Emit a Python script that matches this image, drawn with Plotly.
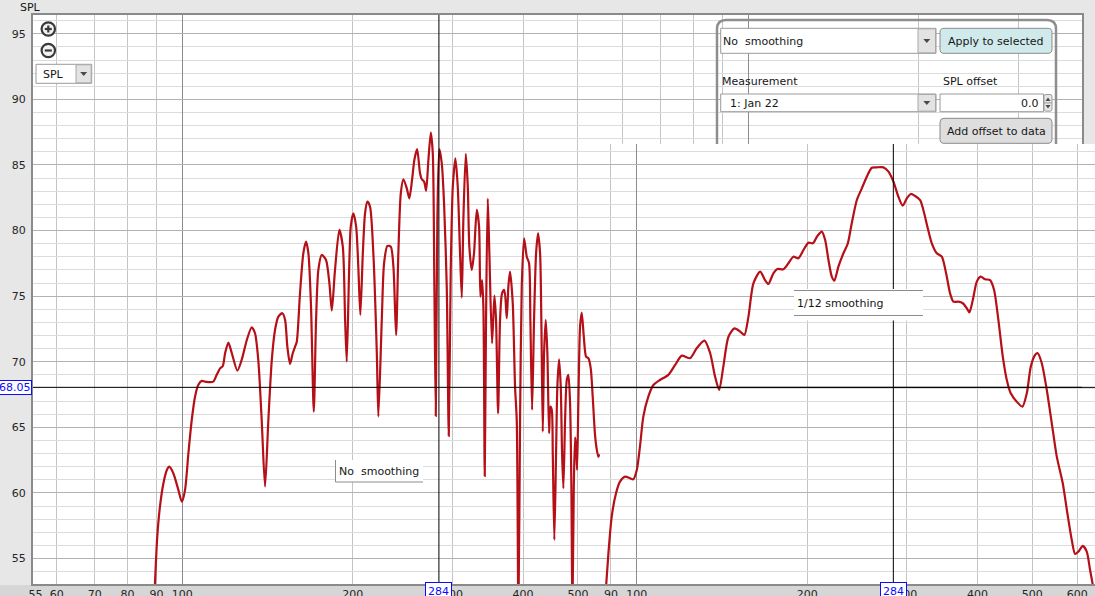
import math
import plotly.graph_objects as go

# ---------------- data ----------------
# Left panel: measurement with no smoothing (Hz, dB SPL)
RAW_FREQ = [88.8, 89.4, 90.3, 91.3, 92.6, 93.9, 94.8, 96.4, 98.4, 99.8,
            101.1, 102.5, 103.9, 105.3, 106.7, 108.2, 110.4, 113.4, 115.0, 116.6,
            117.9, 119.0, 120.6, 122.3, 125.1, 127.3, 130.0, 132.6, 134.4, 136.2,
            138.1, 140.0, 141.9, 143.9, 145.8, 147.8, 150.2, 151.9, 153.3, 155.0,
            156.7, 158.2, 159.3, 161.4, 163.6, 165.4, 167.0, 168.8, 170.7, 172.3,
            173.9, 176.3, 179.4, 181.9, 183.7, 186.1, 189.4, 192.1, 193.9, 195.2,
            197.1, 198.4, 200.5, 202.8, 204.7, 206.3, 208.4, 210.3, 212.3, 214.6,
            217.5, 220.6, 222.0, 225.1, 227.2, 230.3, 233.5, 236.0, 238.6, 240.8,
            243.2, 245.8, 249.2, 251.8, 254.6, 257.0, 259.9, 263.0, 264.9, 267.4,
            269.6, 272.1, 274.8, 277.0, 278.8, 280.4, 282.2, 284.5, 287.3, 290.0,
            293.2, 295.6, 298.0, 300.5, 303.7, 306.6, 309.5, 311.7, 313.7, 316.8,
            319.4, 321.4, 324.6, 327.6, 331.3, 334.4, 336.2, 338.5, 340.3, 342.2,
            344.0, 346.4, 348.7, 352.5, 355.9, 358.3, 361.3, 364.2, 367.2, 370.6,
            374.3, 376.7, 379.3, 383.5, 387.1, 389.8, 392.4, 395.1, 397.8, 401.6,
            406.0, 409.8, 412.0, 414.9, 418.2, 421.7, 425.1, 428.6, 430.8, 433.3,
            435.6, 438.6, 441.5, 444.6, 446.9, 449.5, 451.3, 454.2, 457.4, 459.8,
            463.0, 466.2, 468.7, 471.2, 474.5, 477.8, 480.9, 484.2, 486.8, 488.8,
            491.6, 494.2, 496.2, 498.2, 500.8, 504.3, 507.8, 512.0, 516.8, 521.6,
            526.7, 531.0, 536.0, 539.8, 543.3, 545.5]
RAW_SPL = [50.0, 52.8, 56.67, 58.96, 60.74, 61.75, 62.0, 61.5, 60.23, 59.34,
           60.23, 63.03, 65.56, 67.34, 68.23, 68.54, 68.46, 68.48, 69.0, 69.5,
           69.68, 70.65, 71.46, 70.65, 69.32, 70.14, 71.66, 72.63, 72.17, 70.14,
           65.56, 60.48, 65.56, 70.14, 72.42, 73.44, 73.7, 73.19, 71.15, 69.83,
           70.65, 71.15, 71.53, 75.22, 78.27, 79.16, 78.27, 74.2, 66.2, 73.19,
           77.0, 78.14, 77.76, 75.98, 73.9, 77.0, 80.05, 78.77, 73.19, 70.01,
           77.0, 80.3, 81.32, 80.3, 77.0, 73.57, 78.27, 81.32, 82.2, 81.82,
           78.27, 70.65, 65.82, 73.19, 77.5, 78.83, 78.77, 77.25, 72.04, 78.27,
           82.84, 83.91, 83.22, 82.46, 83.86, 85.38, 86.2, 84.37, 83.91, 83.73,
           83.04, 85.38, 87.46, 85.89, 75.72, 65.87, 80.81, 86.2, 85.13, 82.08,
           75.72, 64.35, 77.0, 83.35, 85.51, 83.35, 78.27, 74.89, 80.81, 85.84,
           83.35, 78.77, 77.0, 78.27, 81.57, 80.3, 74.96, 76.23, 74.2, 61.3,
           73.19, 82.43, 78.27, 71.41, 75.04, 73.19, 66.07, 73.19, 75.22, 75.47,
           73.32, 75.72, 76.87, 74.46, 68.1, 65.56, 50.5, 65.56, 75.72, 79.41,
           78.01, 77.51, 73.19, 66.33, 73.19, 78.27, 79.79, 78.27, 73.19, 64.67,
           70.65, 73.19, 70.65, 64.55, 66.58, 66.33, 63.03, 56.42, 63.03, 68.1,
           70.19, 68.1, 63.03, 60.36, 65.56, 68.61, 69.0, 66.84, 60.48, 50.5,
           60.48, 64.24, 63.53, 61.75, 66.84, 72.68, 73.74, 71.91, 70.39, 70.27,
           69.5, 67.3, 64.4, 63.3, 62.75, 62.95]

# Right panel: same measurement with 1/12 octave smoothing (Hz, dB SPL)
SMOOTH_FREQ = [87.5, 88.3, 89.1, 90.3, 91.9, 93.4, 95.4, 97.3, 98.6, 100.0,
               101.3, 102.7, 104.8, 107.0, 109.9, 113.7, 116.9, 120.1, 124.2, 127.6,
               131.7, 134.8, 137.5, 139.8, 142.2, 145.2, 148.8, 152.3, 154.9, 157.5,
               160.7, 165.2, 168.5, 170.8, 174.3, 177.2, 181.6, 185.3, 189.1, 193.0,
               197.0, 201.0, 204.7, 208.5, 212.3, 215.2, 218.1, 221.1, 223.4, 227.1,
               231.8, 236.0, 239.8, 244.8, 249.8, 254.9, 260.2, 265.5, 272.8, 278.4,
               284.1, 289.9, 295.1, 300.0, 304.9, 310.3, 316.7, 320.9, 326.2, 332.1,
               338.9, 345.9, 352.0, 357.7, 362.6, 370.0, 376.7, 382.9, 387.0, 392.4,
               398.8, 405.3, 412.5, 421.0, 427.9, 435.4, 443.3, 450.6, 457.9, 469.2,
               480.1, 488.8, 496.8, 505.5, 511.1, 519.5, 530.2, 541.1, 552.2, 565.8,
               576.5, 586.9, 594.8, 602.9, 613.8, 623.8, 632.3, 639.3, 648.0]
SMOOTH_SPL = [51.0, 53.0, 55.4, 58.2, 59.98, 60.86, 61.24, 61.12, 61.04, 61.75,
              63.53, 65.82, 67.34, 68.23, 68.61, 69.0, 69.76, 70.47, 70.27, 71.03,
              71.61, 70.65, 68.87, 67.85, 69.63, 71.91, 72.55, 72.3, 72.04, 73.44,
              75.98, 76.87, 76.23, 75.93, 76.74, 77.07, 77.05, 77.51, 78.01, 77.89,
              78.52, 79.08, 79.03, 79.59, 79.92, 79.28, 77.76, 76.49, 76.18, 77.25,
              78.27, 79.03, 80.56, 82.33, 83.22, 84.11, 84.79, 84.82, 84.82, 84.49,
              83.73, 82.58, 81.9, 82.46, 82.79, 82.64, 82.33, 81.57, 80.3, 79.03,
              78.27, 78.01, 76.75, 75.22, 74.58, 74.58, 74.46, 74.08, 73.77, 74.71,
              76.11, 76.49, 76.29, 76.23, 75.47, 73.19, 70.39, 68.61, 67.6, 66.96,
              66.58, 67.6, 69.63, 70.52, 70.65, 69.89, 67.85, 65.31, 62.77, 60.74,
              58.45, 56.42, 55.35, 55.53, 55.96, 55.53, 54.13, 53.0, 51.5]

LEFT_TICKS = [55, 60, 70, 80, 90, 100, 200, 300, 400, 500]
RIGHT_TICKS = [90, 100, 200, 300, 400, 500, 600]
LEFT_GRID_DECADE = [100, 1000]
LEFT_GRID = [60, 70, 80, 90, 200, 300, 400, 500, 600, 700, 800, 900, 2000, 3000]
RIGHT_GRID_DECADE = [100]
RIGHT_GRID = [90, 200, 300, 400, 500, 600]
Y_TICKS = [55, 60, 65, 70, 75, 80, 85, 90, 95]
Y_MINOR = [54, 56, 57, 58, 59, 61, 62, 63, 64, 66, 67, 68, 69, 71, 72, 73, 74,
           76, 77, 78, 79, 81, 82, 83, 84, 86, 87, 88, 89, 91, 92, 93, 94, 96]
CURSOR_HZ = 284
CURSOR_DB = 68.05

LEFT_RANGE_HZ = (54.47, 3886.0)
RIGHT_RANGE_HZ = (86.1, 645.1)
Y_RANGE = (53.06, 96.43)
Y2_TOP = 86.60

# ---------------- geometry helpers (UI chrome only) ----------------
W, H = 1095, 596
ML, MR, MT, MB = 33, 0, 15, 12
PW = W - ML - MR
PH = H - MT - MB
FONT = "DejaVu Sans"


def px(x):
    return (x - ML) / PW


def py(y):
    return (MT + PH - y) / PH


def rect(x0, y0, x1, y1, fill, line=None, lw=1.0, layer="above"):
    return dict(type="rect", xref="paper", yref="paper", layer=layer,
                x0=px(x0), x1=px(x1), y0=py(y1), y1=py(y0), fillcolor=fill,
                line=dict(color=line if line else "rgba(0,0,0,0)", width=lw if line else 0))


def seg(x0, y0, x1, y1, color, w=1.0):
    return dict(type="line", xref="paper", yref="paper", layer="above",
                x0=px(x0), x1=px(x1), y0=py(y0), y1=py(y1), line=dict(color=color, width=w))


def pth(points, fill=None, line=None, lw=1.0, closed=True):
    s = ""
    for cmd, coords in points:
        s += cmd + " " + " ".join("%.6f,%.6f" % (px(a), py(b)) for a, b in coords) + " "
    if closed:
        s += "Z"
    return dict(type="path", xref="paper", yref="paper", layer="above", path=s.strip(),
                fillcolor=fill if fill else "rgba(0,0,0,0)",
                line=dict(color=line if line else "rgba(0,0,0,0)", width=lw if line else 0))


def rrect(x0, y0, x1, y1, r, fill, line, lw=1.0):
    pts = [("M", [(x0 + r, y0)]), ("L", [(x1 - r, y0)]), ("Q", [(x1, y0), (x1, y0 + r)]),
           ("L", [(x1, y1 - r)]), ("Q", [(x1, y1), (x1 - r, y1)]), ("L", [(x0 + r, y1)]),
           ("Q", [(x0, y1), (x0, y1 - r)]), ("L", [(x0, y0 + r)]), ("Q", [(x0, y0), (x0 + r, y0)])]
    return pth(pts, fill, line, lw)


def tri_down(cx, cy, w=7, h=4, color="#4a4a4a"):
    return pth([("M", [(cx - w / 2, cy - h / 2)]), ("L", [(cx + w / 2, cy - h / 2)]),
                ("L", [(cx, cy + h / 2)])], fill=color)


def tri_up(cx, cy, w=5, h=3.5, color="#4a4a4a"):
    return pth([("M", [(cx - w / 2, cy + h / 2)]), ("L", [(cx + w / 2, cy + h / 2)]),
                ("L", [(cx, cy - h / 2)])], fill=color)


def label(x, y, s, anchor="left", size=11, color="#161616"):
    return dict(xref="paper", yref="paper", x=px(x), y=py(y), text=s, showarrow=False,
                xanchor=anchor, yanchor="middle", borderpad=0, borderwidth=0,
                font=dict(family=FONT, size=size, color=color))


# ---------------- figure ----------------
fig = go.Figure()
fig.add_trace(go.Scatter(x=RAW_FREQ, y=RAW_SPL, mode="lines", xaxis="x", yaxis="y",
                         line=dict(color="#b50f17", width=2.2, shape="spline", smoothing=0.7),
                         hoverinfo="skip", showlegend=False))
fig.add_trace(go.Scatter(x=SMOOTH_FREQ, y=SMOOTH_SPL, mode="lines", xaxis="x2", yaxis="y2",
                         line=dict(color="#b50f17", width=2.2, shape="spline", smoothing=0.7),
                         hoverinfo="skip", showlegend=False))
# carriers for the tick-label axes
fig.add_trace(go.Scatter(x=[], y=[], xaxis="x3", yaxis="y", showlegend=False, hoverinfo="skip"))
fig.add_trace(go.Scatter(x=[], y=[], xaxis="x4", yaxis="y2", showlegend=False, hoverinfo="skip"))

FRAME = "#8a8a8a"
GRID_DARK = "#8c8c8c"
GRID_LIGHT = "#c4c4c4"
YGRID_MAJ = "#b2b2b2"
YGRID_MIN = "#dcdcdc"
TICKFONT = dict(family=FONT, size=11, color="#262626")

lr = [math.log10(v) for v in LEFT_RANGE_HZ]
rr = [math.log10(v) for v in RIGHT_RANGE_HZ]

fig.update_layout(
    width=W, height=H,
    margin=dict(l=ML, r=MR, t=MT, b=MB, pad=0, autoexpand=False),
    paper_bgcolor="#e7e7e7", plot_bgcolor="#ffffff",
    showlegend=False, hovermode=False,
    font=dict(family=FONT, size=11, color="#222"),
    xaxis=dict(type="log", domain=[0, (1082 - ML) / PW], range=lr, anchor="y",
               tickmode="array", tickvals=LEFT_GRID_DECADE, showticklabels=False, ticks="",
               showgrid=True, gridcolor=GRID_DARK, gridwidth=1, zeroline=False,
               minor=dict(tickmode="array", tickvals=LEFT_GRID, showgrid=True,
                          gridcolor=GRID_LIGHT, gridwidth=1, ticks=""),
               showline=True, linecolor=FRAME, linewidth=2, mirror=True,
               automargin=False, fixedrange=True),
    xaxis3=dict(type="log", overlaying="x", anchor="y", range=lr, tickmode="array",
                tickvals=LEFT_TICKS, ticktext=[str(v) for v in LEFT_TICKS],
                showgrid=False, ticks="", showline=False, zeroline=False,
                ticklabelstandoff=2, tickfont=TICKFONT, automargin=False, fixedrange=True),
    yaxis=dict(domain=[0, 1], range=list(Y_RANGE), anchor="x", tickmode="array",
               tickvals=Y_TICKS, ticktext=[str(v) for v in Y_TICKS], ticks="",
               showgrid=True, gridcolor=YGRID_MAJ, gridwidth=1, zeroline=False,
               minor=dict(tickmode="array", tickvals=Y_MINOR, showgrid=True,
                          gridcolor=YGRID_MIN, gridwidth=1, ticks=""),
               showline=True, linecolor=FRAME, linewidth=2, mirror=True,
               ticklabelstandoff=3, tickfont=TICKFONT, automargin=False, fixedrange=True),
    xaxis2=dict(type="log", domain=[(600 - ML) / PW, 1], range=rr, anchor="y2",
                tickmode="array", tickvals=RIGHT_GRID_DECADE, showticklabels=False, ticks="",
                showgrid=True, gridcolor=GRID_DARK, gridwidth=1, zeroline=False,
                minor=dict(tickmode="array", tickvals=RIGHT_GRID, showgrid=True,
                           gridcolor=GRID_LIGHT, gridwidth=1, ticks=""),
                showline=True, linecolor=FRAME, linewidth=2, mirror=False,
                automargin=False, fixedrange=True),
    xaxis4=dict(type="log", overlaying="x2", anchor="y2", range=rr, tickmode="array",
                tickvals=RIGHT_TICKS, ticktext=[str(v) for v in RIGHT_TICKS],
                showgrid=False, ticks="", showline=False, zeroline=False,
                ticklabelstandoff=2, tickfont=TICKFONT, automargin=False, fixedrange=True),
    yaxis2=dict(domain=[0, (MT + PH - 144) / PH], range=[Y_RANGE[0], Y2_TOP], anchor="x2",
                tickmode="array", tickvals=Y_TICKS, showticklabels=False, ticks="",
                showgrid=True, gridcolor=YGRID_MAJ, gridwidth=1, zeroline=False,
                minor=dict(tickmode="array", tickvals=Y_MINOR, showgrid=True,
                           gridcolor=YGRID_MIN, gridwidth=1, ticks=""),
                showline=False, automargin=False, fixedrange=True),
)

shapes = []
# bottom strip of the window
shapes.append(rect(0, 585, W, H, "#d6d6d6", layer="below"))
# cursor cross-hairs (drawn through the axes' own scales)
for xr, yr, xrng, ytop in (("x", "y", LEFT_RANGE_HZ, Y_RANGE[1]),
                           ("x2", "y2", RIGHT_RANGE_HZ, Y2_TOP)):
    shapes.append(dict(type="line", layer="above", xref=xr, yref=yr,
                       x0=CURSOR_HZ, x1=CURSOR_HZ, y0=Y_RANGE[0], y1=ytop,
                       line=dict(color="#000", width=1)))
    shapes.append(dict(type="line", layer="above", xref=xr, yref=yr,
                       x0=xrng[0], x1=xrng[1], y0=CURSOR_DB, y1=CURSOR_DB,
                       line=dict(color="#000", width=1)))

# zoom buttons
for cy, plus in ((29.0, True), (50.5, False)):
    shapes.append(dict(type="circle", xref="paper", yref="paper", layer="above",
                       x0=px(41.6), x1=px(55.0), y0=py(cy + 6.7), y1=py(cy - 6.7),
                       fillcolor="#f2f2f2", line=dict(color="#3a3a3a", width=2.2)))
    shapes.append(seg(44.8, cy, 51.8, cy, "#3a3a3a", 2.2))
    if plus:
        shapes.append(seg(48.3, cy - 3.5, 48.3, cy + 3.5, "#3a3a3a", 2.2))
# SPL drop-down
shapes.append(rect(36, 64.3, 91.7, 83.3, "#ffffff", "#9a9a9a"))
shapes.append(rect(76, 64.8, 91.2, 82.8, "#e3e3e3", "#a8a8a8"))
shapes.append(tri_down(83.7, 74))

# control panel (open at the bottom, hidden by the second view)
shapes.append(pth([("M", [(717, 144)]), ("L", [(717, 29)]), ("Q", [(717, 20), (726, 20)]),
                   ("L", [(1047, 20)]), ("Q", [(1056, 20), (1056, 29)]), ("L", [(1056, 144)])],
                  line="#8e8e8e", lw=2.5, closed=False))
# smoothing combo
shapes.append(rect(720.7, 28.3, 936, 53.3, "#ffffff", "#9a9a9a"))
shapes.append(rect(918, 28.8, 935.5, 52.8, "#e3e3e3", "#a8a8a8"))
shapes.append(tri_down(926.8, 41))
# apply button
shapes.append(rrect(940, 28.3, 1052, 53.3, 4, "#d0eaeb", "#8a8a8a"))
# measurement combo
shapes.append(rect(720.7, 94, 936, 111.7, "#ffffff", "#9a9a9a"))
shapes.append(rect(918, 94.5, 935.5, 111.2, "#e3e3e3", "#a8a8a8"))
shapes.append(tri_down(926.8, 103))
# SPL offset spinner
shapes.append(rect(940, 94, 1043.5, 111.7, "#ffffff", "#9a9a9a"))
shapes.append(rrect(1044, 94.5, 1052, 111.2, 2, "#e6e6e6", "#9a9a9a"))
shapes.append(seg(1044, 102.9, 1052, 102.9, "#9a9a9a", 1))
shapes.append(tri_up(1048, 99.2))
shapes.append(tri_down(1048, 106.8, w=5, h=3.5))
# add offset button
shapes.append(rrect(940, 118.3, 1052, 143.3, 4, "#dedede", "#8a8a8a"))

# curve captions
shapes.append(rect(335.5, 460, 423, 482, "#ffffff"))
shapes.append(seg(335.5, 460, 335.5, 482, "#8c8c8c", 1))
shapes.append(seg(335.5, 482, 423, 482, "#8c8c8c", 1))
shapes.append(rect(794, 289, 923, 320.5, "#ffffff"))
shapes.append(seg(794, 290.5, 923, 290.5, "#8c8c8c", 1))
shapes.append(seg(794, 315.5, 923, 315.5, "#8c8c8c", 1))

fig.update_layout(shapes=shapes)

BLUE = "#0b0bff"
ann = [
    label(19.5, 7, "SPL"),
    label(42.5, 74, "SPL"),
    label(723, 41.3, "No\u00a0 smoothing"),
    label(996, 41.3, "Apply to selected", anchor="center"),
    label(722, 81.5, "Measurement"),
    label(943, 81.5, "SPL offset"),
    label(729.5, 103, "1: Jan 22"),
    label(1038.5, 103, "0.0", anchor="right"),
    label(996, 131, "Add offset to data", anchor="center"),
    label(338.5, 471, "No\u00a0 smoothing"),
    label(797, 303, "1/12 smoothing"),
    dict(xref="paper", yref="y", x=px(32.3), y=CURSOR_DB, text="%.2f" % CURSOR_DB,
         showarrow=False, xanchor="right", yanchor="middle", bgcolor="#ffffff",
         bordercolor=BLUE, borderwidth=1, borderpad=0, font=dict(family=FONT, size=11, color=BLUE)),
]
for xr in ("x", "x2"):
    ann.append(dict(xref=xr, yref="paper", x=math.log10(CURSOR_HZ), y=py(581.5),
                    text=str(CURSOR_HZ), showarrow=False, xanchor="center", yanchor="top",
                    bgcolor="#ffffff", bordercolor=BLUE, borderwidth=1, borderpad=2,
                    font=dict(family=FONT, size=11, color=BLUE)))
fig.update_layout(annotations=ann)

fig.write_html("out.html", config={"displayModeBar": False},
               post_script="document.body.style.margin='0';")
